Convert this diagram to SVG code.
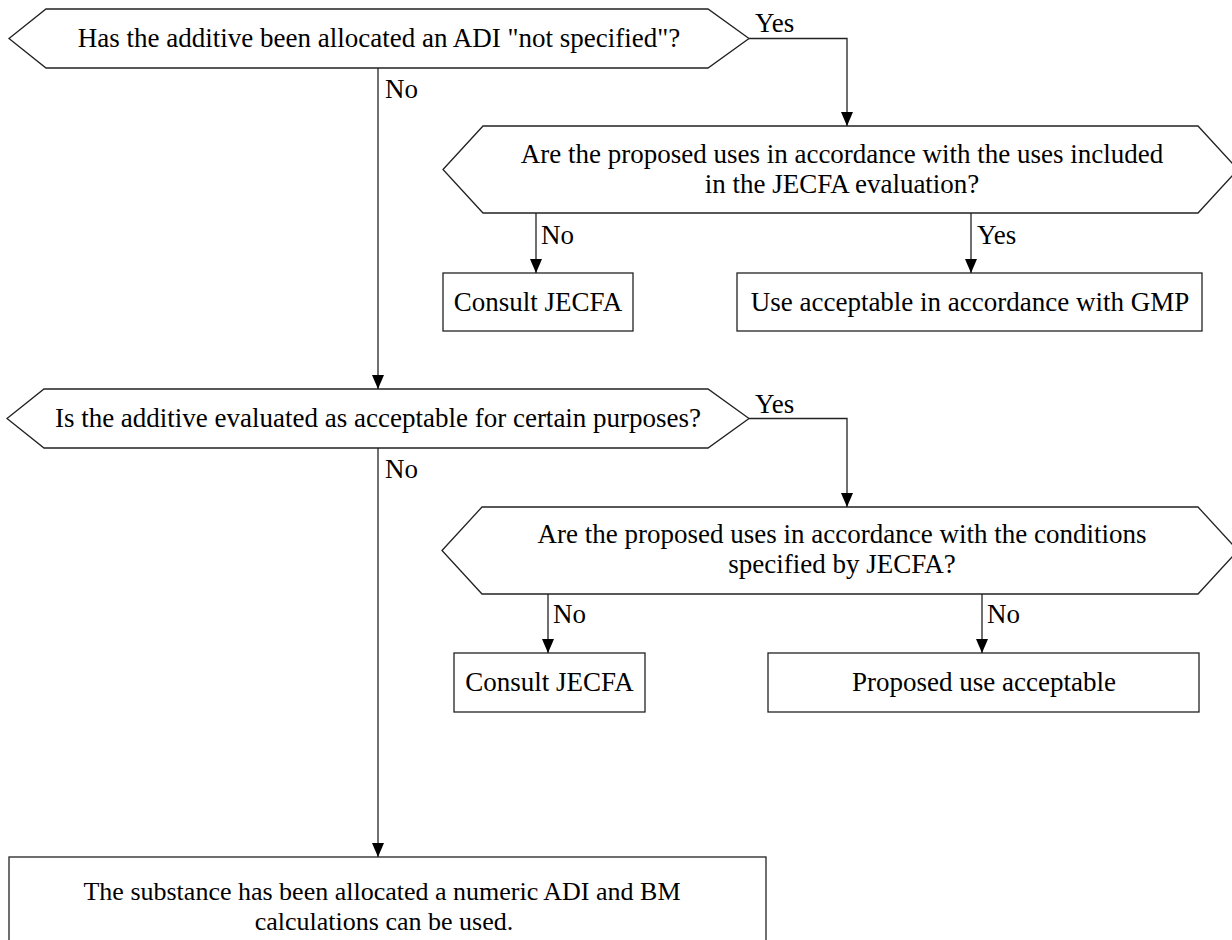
<svg xmlns="http://www.w3.org/2000/svg" width="1232" height="940" viewBox="0 0 1232 940">
<style>
.shape{fill:#fff;stroke:#222;stroke-width:1.3}
.edge{fill:none;stroke:#222;stroke-width:1.3}
text{font-family:"Liberation Serif","Times New Roman",serif;font-size:27px;fill:#000}
.c{text-anchor:middle}
.s{font-size:26px}
</style>
<defs>
<marker id="arr" viewBox="0 0 14 12" refX="14" refY="6" markerWidth="14" markerHeight="12" markerUnits="userSpaceOnUse" orient="auto">
<path d="M0,0 L14,6 L0,12 Z" fill="#000"/>
</marker>
</defs>
<rect width="1232" height="940" fill="#fff"/>
<g id="q1">
<polygon class="shape" points="9,38.5 46,9 708,9 749,38.5 708,68 46,68"/>
<text class="c" x="379" y="47">Has the additive been allocated an ADI "not specified"?</text>
</g>
<g id="q2">
<polygon class="shape" points="443,169.5 483,126 1198,126 1238,169.5 1198,213 483,213"/>
<text class="c" x="842" y="163">Are the proposed uses in accordance with the uses included</text>
<text class="c" x="842" y="193">in the JECFA evaluation?</text>
</g>
<g id="consult1">
<rect class="shape" x="443" y="273" width="190" height="58"/>
<text class="c" x="538" y="311">Consult JECFA</text>
</g>
<g id="gmp">
<rect class="shape" x="737" y="273" width="465" height="58"/>
<text class="c" x="970" y="311">Use acceptable in accordance with GMP</text>
</g>
<g id="q3">
<polygon class="shape" points="7,418.5 44,389 708,389 749,418.5 708,448 44,448"/>
<text class="c" x="378" y="427">Is the additive evaluated as acceptable for certain purposes?</text>
</g>
<g id="q4">
<polygon class="shape" points="442,550.5 482,507 1198,507 1238,550.5 1198,594 482,594"/>
<text class="c" x="842" y="543">Are the proposed uses in accordance with the conditions</text>
<text class="c" x="842" y="573">specified by JECFA?</text>
</g>
<g id="consult2">
<rect class="shape" x="454" y="653" width="191" height="59"/>
<text class="c" x="549.5" y="691">Consult JECFA</text>
</g>
<g id="proposed">
<rect class="shape" x="768" y="653" width="431" height="59"/>
<text class="c" x="984" y="691">Proposed use acceptable</text>
</g>
<g id="numeric">
<rect class="shape" x="9" y="857" width="757" height="95"/>
<text class="c s" x="382" y="900">The substance has been allocated a numeric ADI and BM</text>
<text class="c s" x="384" y="930">calculations can be used.</text>
</g>
<g id="connectors">
<path class="edge" d="M378,68 V389" marker-end="url(#arr)"/>
<path class="edge" d="M749,38.5 H847 V126" marker-end="url(#arr)"/>
<path class="edge" d="M536,213 V273" marker-end="url(#arr)"/>
<path class="edge" d="M971,213 V273" marker-end="url(#arr)"/>
<path class="edge" d="M378,448 V857" marker-end="url(#arr)"/>
<path class="edge" d="M749,418.5 H847 V507" marker-end="url(#arr)"/>
<path class="edge" d="M548,594 V653" marker-end="url(#arr)"/>
<path class="edge" d="M982,594 V653" marker-end="url(#arr)"/>
<text x="385" y="98">No</text>
<text x="755" y="32">Yes</text>
<text x="541" y="244">No</text>
<text x="977" y="244">Yes</text>
<text x="385" y="478">No</text>
<text x="755" y="413">Yes</text>
<text x="553" y="623">No</text>
<text x="987" y="623">No</text>
</g>
</svg>
